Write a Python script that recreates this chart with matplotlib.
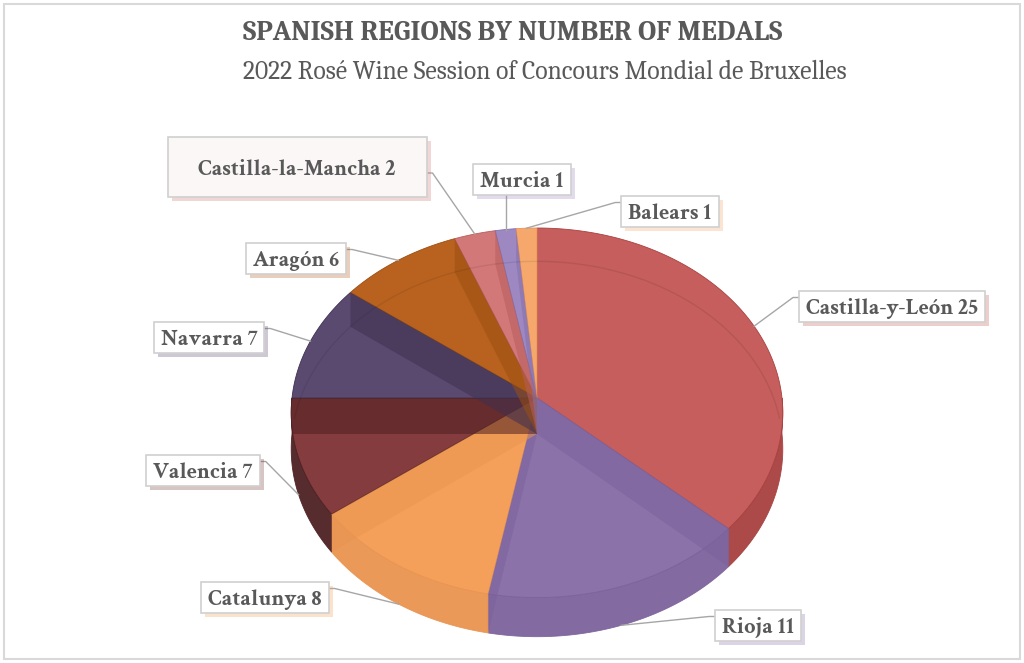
import numpy as np
import matplotlib
matplotlib.use("Agg")
import matplotlib.pyplot as plt
from matplotlib.patches import Polygon, Rectangle

# ---- data ----
regions = ["Castilla-y-León", "Rioja", "Catalunya", "Valencia", "Navarra",
           "Aragón", "Castilla-la-Mancha", "Murcia", "Balears"]
medals = [25, 11, 8, 7, 7, 6, 2, 1, 1]
colors = ["#C55E5C", "#8B72A8", "#F5A05A", "#843C3E", "#5B4A70",
          "#B9621F", "#D27879", "#9D88C2", "#F6A86C"]
side_colors = ["#A8403F", "#7C629C", "#E99450", "#4E2022", "#3E3150",
               "#9A4E12", "#B85D5E", "#8470AA", "#E8945A"]

# label box centres (pixels) - layout only
label_pos = [(892, 306), (758, 625), (265, 597), (203, 470), (209, 337),
             (296, 258), (297, 167), (522, 179), (670, 211)]

W, H = 1024, 663
CX, CY, A, B, DEPTH, K = 537, 398, 245, 183.6, 36, 0.08
HEAD_FONT = ["Caladea", "DejaVu Serif"]
LABEL_FONT = ["Crimson Text", "Liberation Serif", "DejaVu Serif"]
GREY = "#595959"


def proj(theta, drop=0.0):
    # theta in degrees, clockwise from the top (back) of the pie
    t = np.radians(theta)
    X, Z = np.sin(t), np.cos(t)
    s = 1.0 / (1.0 + K * Z)
    return CX + A * X * s, CY - B * Z * s + drop * s


def fit_width(t, target, renderer):
    w = t.get_window_extent(renderer).width
    t.set_fontsize(t.get_fontsize() * target / w)


fig = plt.figure(figsize=(W / 100, H / 100), dpi=100)
ax = fig.add_axes([0, 0, 1, 1])
ax.set_xlim(0, W)
ax.set_ylim(H, 0)
ax.axis("off")
renderer = fig.canvas.get_renderer()

# outer frame
fig.patches.append(Rectangle((0.004, 0.006), 0.992, 0.988, transform=fig.transFigure,
                             fill=False, ec="#D9D9D9", lw=1.5))

title = ax.text(W / 2 + 1, 33, "SPANISH REGIONS BY NUMBER OF MEDALS", ha="center",
                va="center", fontsize=20, fontweight="bold", color=GREY, family=HEAD_FONT)
fit_width(title, 540, renderer)
sub = ax.text(W / 2 + 33, 72, "2022 Rosé Wine Session of Concours Mondial de Bruxelles",
              ha="center", va="center", fontsize=18, color=GREY, family=HEAD_FONT)
fit_width(sub, 606, renderer)

total = float(sum(medals))
bounds = np.concatenate([[0], np.cumsum(medals)]) / total * 360.0
n = len(medals)

# side walls (front half only)
for i in range(n):
    t0, t1 = max(bounds[i], 90), min(bounds[i + 1], 270)
    if t1 <= t0:
        continue
    th = np.linspace(t0, t1, 60)
    top = [proj(t) for t in th]
    bot = [proj(t, DEPTH) for t in th[::-1]]
    ax.add_patch(Polygon(top + bot, closed=True, fc=side_colors[i], ec=side_colors[i],
                         lw=0.6, alpha=0.95, zorder=2))

# top faces
for i in range(n):
    th = np.linspace(bounds[i], bounds[i + 1], 120)
    pts = [(CX, CY)] + [proj(t) for t in th]
    ax.add_patch(Polygon(pts, closed=True, fc=colors[i], ec=side_colors[i],
                         lw=0.6, zorder=3))

# inner radial walls seen through the translucent top
for j in range(1, n):
    phi = bounds[j]
    k = j if phi < 180 else j - 1
    r0, r1 = proj(phi), proj(phi, DEPTH)
    quad = [(CX, CY), r0, r1, (CX, CY + DEPTH)]
    ax.add_patch(Polygon(quad, closed=True, fc=side_colors[k], ec="none",
                         alpha=0.55, zorder=3.5))

# faint bottom rim seen through the top
th = np.linspace(-85, 85, 200)
rim = np.array([proj(t, DEPTH) for t in th])
ax.plot(rim[:, 0], rim[:, 1], color="#000000", alpha=0.08, lw=1, zorder=4)

# labels
labels = []
for i, (name, val) in enumerate(zip(regions, medals)):
    lx, ly = label_pos[i]
    t = ax.text(lx, ly, f"{name} {val}", ha="center", va="center_baseline", fontsize=14,
                fontweight="bold", color=GREY, family=LABEL_FONT, zorder=7)
    labels.append(t)

# scale all labels so that the longest one matches the reference width
w0 = labels[0].get_window_extent(renderer).width
for t in labels:
    t.set_fontsize(14 * 172 / w0)

fig.canvas.draw()

# boxes, shadows and leader lines
for i, t in enumerate(labels):
    lx, ly = label_pos[i]
    tw = t.get_window_extent(renderer).width
    big = regions[i] == "Castilla-la-Mancha"
    bw, bh = (259, 60) if big else (tw + 14, 31)
    x0, y0 = lx - bw / 2, ly - bh / 2
    ax.add_patch(Rectangle((x0 + 4, y0 + 4), bw, bh, fc=colors[i], ec="none",
                           alpha=0.3, zorder=5))
    ax.add_patch(Rectangle((x0, y0), bw, bh, fc="#FCF7F7" if big else "white",
                           ec="#D0D0D0", lw=1.2, zorder=6))
    mid = (bounds[i] + bounds[i + 1]) / 2
    front = np.cos(np.radians(mid)) < 0
    px, py = proj(mid, DEPTH if front else 0)
    if x0 < px < x0 + bw:
        ax.plot([px, px], [y0 + bh, py], color="#A6A6A6", lw=1, zorder=4)
        continue
    side = 1 if px > lx else -1
    sx = x0 + bw if side > 0 else x0
    sy = ly + 6 if big else y0 + 7
    ax.plot([sx, sx + 6 * side, px], [sy, sy, py], color="#A6A6A6", lw=1, zorder=4)

fig.savefig("out.png", dpi=100)
